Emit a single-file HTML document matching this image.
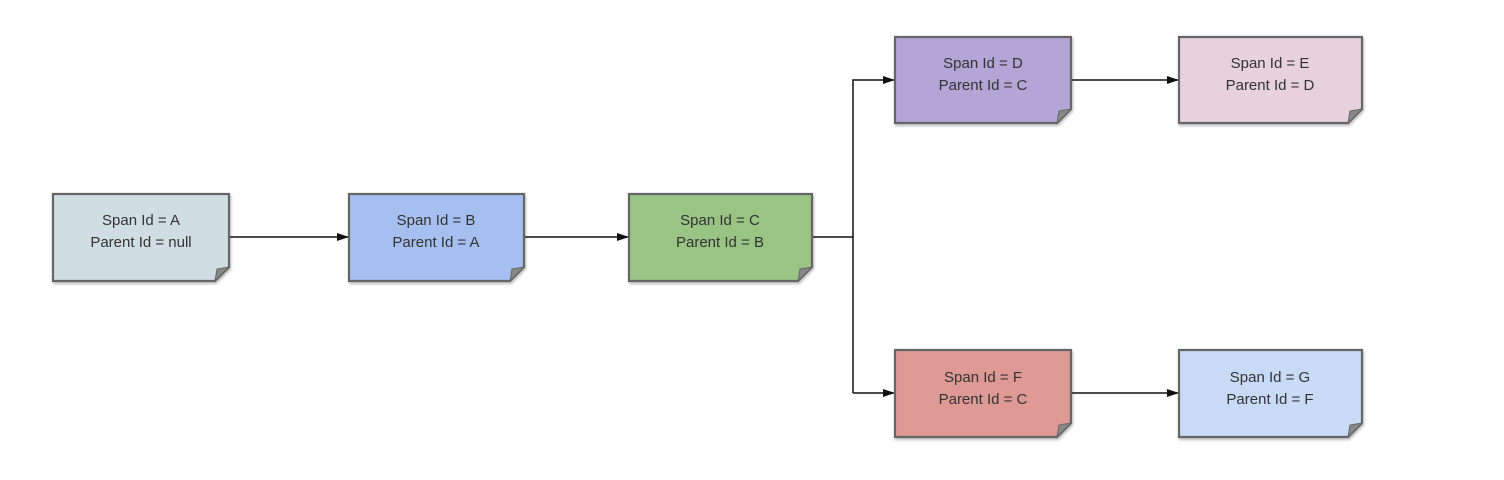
<!DOCTYPE html>
<html><head><meta charset="utf-8"><style>
html,body{margin:0;padding:0;background:#fff;}
svg{display:block;}
text{font-family:"Liberation Sans",sans-serif;font-size:15px;fill:#333;text-anchor:middle;}
</style></head><body>
<svg width="1504" height="480" viewBox="0 0 1504 480" xmlns="http://www.w3.org/2000/svg">
<defs>
<marker id="ar" markerWidth="12" markerHeight="8" refX="11" refY="4" orient="auto" markerUnits="userSpaceOnUse">
<path d="M0,0 L12,4 L0,8 Z" fill="#111"/>
</marker>
<filter id="sh" x="-5%" y="-5%" width="115%" height="120%"><feDropShadow dx="1" dy="2" stdDeviation="1.2" flood-color="#000" flood-opacity="0.25"/></filter>
</defs>
<g stroke="#111" stroke-width="1.5" fill="none">
<path d="M229,237 H348" marker-end="url(#ar)"/>
<path d="M524,237 H628" marker-end="url(#ar)"/>
<path d="M812,237 H853"/>
<path d="M853,393 V80 H894" marker-end="url(#ar)"/>
<path d="M853,393 H894" marker-end="url(#ar)"/>
<path d="M1071,80 H1178" marker-end="url(#ar)"/>
<path d="M1071,393 H1178" marker-end="url(#ar)"/>
</g>
<g stroke="#666" stroke-width="2.2" filter="url(#sh)">
<path d="M53,194 H229 V267 L215,281 H53 Z" fill="#d0dde2"/>
<path d="M349,194 H524 V267 L510,281 H349 Z" fill="#a4bff0"/>
<path d="M629,194 H812 V267 L798,281 H629 Z" fill="#99c484"/>
<path d="M895,37 H1071 V109 L1057,123 H895 Z" fill="#b3a5d5"/>
<path d="M1179,37 H1362 V109 L1348,123 H1179 Z" fill="#e6d1dc"/>
<path d="M895,350 H1071 V423 L1057,437 H895 Z" fill="#df9995"/>
<path d="M1179,350 H1362 V423 L1348,437 H1179 Z" fill="#c9daf7"/>
</g>
<g fill="#888" stroke="#666" stroke-width="1">
<path d="M229,267 L215,281 L217,269 Z"/>
<path d="M524,267 L510,281 L512,269 Z"/>
<path d="M812,267 L798,281 L800,269 Z"/>
<path d="M1071,109 L1057,123 L1059,111 Z"/>
<path d="M1362,109 L1348,123 L1350,111 Z"/>
<path d="M1071,423 L1057,437 L1059,425 Z"/>
<path d="M1362,423 L1348,437 L1350,425 Z"/>
</g>
<text x="141" y="225">Span Id = A</text><text x="141" y="247">Parent Id = null</text>
<text x="436" y="225">Span Id = B</text><text x="436" y="247">Parent Id = A</text>
<text x="720" y="225">Span Id = C</text><text x="720" y="247">Parent Id = B</text>
<text x="983" y="68">Span Id = D</text><text x="983" y="90">Parent Id = C</text>
<text x="1270" y="68">Span Id = E</text><text x="1270" y="90">Parent Id = D</text>
<text x="983" y="382">Span Id = F</text><text x="983" y="404">Parent Id = C</text>
<text x="1270" y="382">Span Id = G</text><text x="1270" y="404">Parent Id = F</text>
</svg>
</body></html>
